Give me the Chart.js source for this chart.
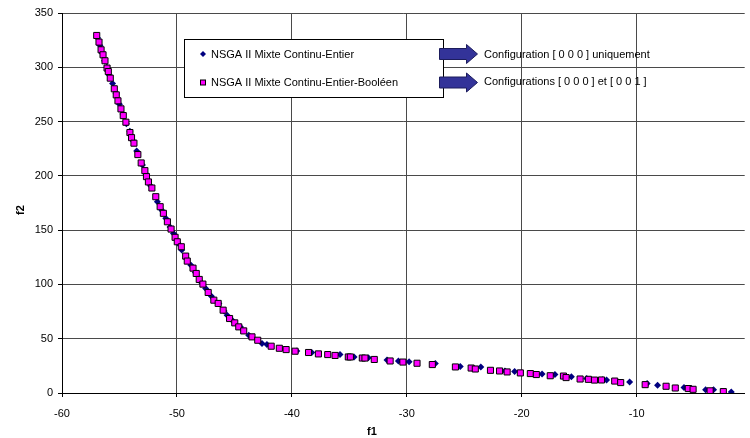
<!DOCTYPE html>
<html>
<head>
<meta charset="utf-8">
<script src="https://cdn.jsdelivr.net/npm/chart.js@4"></script>
<style>
  html, body { margin: 0; padding: 0; background: #fff; }
  #wrap { width: 750px; height: 438px; }
</style>
</head>
<body>
<div id="wrap"><canvas id="front" width="750" height="438"></canvas></div>
<script>
// NSGA II Mixte Continu-Entier (navy diamonds)
const entierF1 = [-56.9, -56.7, -56.5, -56.3, -56.1, -55.9, -55.6, -55.3, -55.0, -54.7,
  -54.4, -54.1, -53.8, -53.5, -53.0, -52.7, -52.3, -51.7, -51.3, -50.97,
  -50.6, -50.3, -49.9, -49.58, -49.2, -48.8, -48.4, -47.9, -47.5, -47.0,
  -46.35, -45.9, -45.63, -45.2, -44.47, -43.75, -42.6, -42.17, -39.57, -38.27,
  -35.81, -34.59, -33.35, -31.72, -30.73, -29.8, -27.52, -25.35, -23.56, -21.46,
  -20.62, -18.23, -17.11, -15.68, -14.35, -12.96, -12.62, -10.61, -9.09, -8.18,
  -5.88, -5.25, -4.0, -3.31, -1.77];
const entierF2 = [327, 320, 313, 306, 300, 293, 285, 276, 266, 257,
  248, 241, 232, 223, 210.1, 202, 191, 176.2, 168, 160.9,
  153, 147, 138, 131.6, 124, 118, 111, 102, 96.3, 89,
  82.5, 75.5, 71.7, 67, 60.9, 53.2, 45.6, 44.6, 38.7, 37.3,
  35.4, 33.2, 32.5, 30.4, 29.4, 28.8, 27.2, 24.4, 24.0, 20.3,
  19.7, 17.4, 17.1, 14.9, 13.3, 12.2, 12.0, 10.1, 8.7, 7.1,
  5.0, 4.1, 3.0, 3.1, 0.9];

// NSGA II Mixte Continu-Entier-Booléen (magenta squares)
const booleenF1 = [-56.98, -56.78, -56.6, -56.43, -56.26, -56.08, -55.97, -55.8, -55.45, -55.28,
  -55.13, -54.87, -54.67, -54.44, -54.09, -53.95, -53.74, -53.4, -53.11, -52.79,
  -52.65, -52.48, -52.18, -51.84, -51.46, -51.18, -50.83, -50.51, -50.16, -49.97,
  -49.62, -49.24, -49.1, -48.6, -48.32, -48.06, -47.74, -47.28, -46.79, -46.41,
  -45.98, -45.42, -44.97, -44.62, -44.19, -43.47, -42.97, -41.8, -41.09, -40.5,
  -39.72, -38.55, -37.69, -36.88, -36.24, -35.09, -34.91, -33.87, -33.64, -32.83,
  -31.45, -30.34, -29.11, -27.78, -25.77, -24.4, -24.04, -22.72, -21.93, -21.27,
  -20.12, -19.25, -18.73, -17.52, -16.37, -16.14, -14.92, -14.2, -13.67, -13.06,
  -11.91, -11.39, -9.26, -7.44, -6.64, -5.51, -5.09, -3.61, -2.46];
const booleenF2 = [329.3, 323.2, 316.1, 311.5, 306.0, 299.3, 296.1, 290.0, 280.2, 274.6,
  269.1, 261.7, 255.5, 249.4, 239.9, 235.2, 230.1, 219.6, 211.9, 204.8,
  199.3, 194.4, 188.8, 180.8, 171.6, 165.5, 157.7, 151.0, 143.4, 139.3,
  134.7, 126.1, 121.5, 115.0, 110.1, 104.6, 100.3, 92.6, 85.5, 82.5,
  76.3, 68.6, 64.6, 60.9, 57.2, 51.7, 48.6, 43.1, 41.2, 40.0,
  38.5, 37.3, 36.0, 35.4, 34.6, 33.2, 33.2, 32.2, 32.2, 30.9,
  29.5, 28.5, 27.4, 26.2, 24.0, 23.0, 22.1, 20.9, 20.3, 19.4,
  18.5, 17.9, 17.0, 15.9, 15.6, 14.2, 12.9, 12.6, 11.9, 12.0,
  11.0, 9.6, 7.7, 6.2, 4.6, 4.1, 3.4, 2.0, 1.3];

const seriesNames = ['NSGA II Mixte Continu-Entier', 'NSGA II Mixte Continu-Entier-Booléen'];
const noteTexts = ['Configuration [ 0 0 0 ] uniquement', 'Configurations [ 0 0 0 ] et [ 0 0 1 ]'];

const FONT = '"Liberation Sans", Arial, sans-serif';
const NAVY = '#000080';
const MAGENTA = '#ff00ff';

function toPoints(xs, ys) {
  return xs.map((x, i) => ({ x: x, y: ys[i] }));
}

// block arrow pointing right
function drawArrow(ctx, x0, cy) {
  ctx.beginPath();
  ctx.moveTo(x0, cy - 5.5);
  ctx.lineTo(x0 + 27, cy - 5.5);
  ctx.lineTo(x0 + 27, cy - 9.5);
  ctx.lineTo(x0 + 38, cy);
  ctx.lineTo(x0 + 27, cy + 9.5);
  ctx.lineTo(x0 + 27, cy + 5.5);
  ctx.lineTo(x0, cy + 5.5);
  ctx.closePath();
  ctx.fillStyle = '#333399';
  ctx.fill();
  ctx.strokeStyle = '#1c1c5c';
  ctx.lineWidth = 1;
  ctx.stroke();
}

// legend box, arrows, notes and axis titles
const decorations = {
  id: 'decorations',
  afterDraw(chart) {
    const ctx = chart.ctx;
    ctx.save();

    ctx.fillStyle = '#fff';
    ctx.fillRect(184.5, 39.5, 259, 58);
    ctx.strokeStyle = '#000';
    ctx.lineWidth = 1;
    ctx.strokeRect(184.5, 39.5, 259, 58);

    // diamond marker
    ctx.beginPath();
    ctx.moveTo(203, 51);
    ctx.lineTo(206, 54);
    ctx.lineTo(203, 57);
    ctx.lineTo(200, 54);
    ctx.closePath();
    ctx.fillStyle = NAVY;
    ctx.fill();

    // square marker
    ctx.fillStyle = MAGENTA;
    ctx.fillRect(200.5, 80, 5, 5);
    ctx.strokeStyle = '#000';
    ctx.strokeRect(200.5, 80, 5, 5);

    ctx.fillStyle = '#000';
    ctx.font = '11px ' + FONT;
    ctx.textBaseline = 'middle';
    ctx.textAlign = 'left';
    ctx.fillText(seriesNames[0], 211, 54.5);
    ctx.fillText(seriesNames[1], 211, 83);

    drawArrow(ctx, 439.5, 54);
    drawArrow(ctx, 439.5, 82.5);

    ctx.fillStyle = '#000';
    ctx.fillText(noteTexts[0], 484, 55);
    ctx.fillText(noteTexts[1], 484, 82);

    ctx.font = 'bold 11px ' + FONT;
    ctx.textAlign = 'center';
    ctx.fillText('f1', 372, 432);
    ctx.translate(21, 210);
    ctx.rotate(-Math.PI / 2);
    ctx.fillText('f2', 0, 0);
    ctx.restore();
  }
};

const ctx = document.getElementById('front').getContext('2d');
const frontChart = new Chart(ctx, {
  type: 'scatter',
  data: {
    datasets: [{
      label: seriesNames[0],
      data: toPoints(entierF1, entierF2),
      pointStyle: 'rectRot',
      pointRadius: 3.5,
      pointBackgroundColor: NAVY,
      pointBorderColor: NAVY,
      pointBorderWidth: 0,
      order: 2
    }, {
      label: seriesNames[1],
      data: toPoints(booleenF1, booleenF2),
      pointStyle: 'rect',
      pointRadius: 4.3,
      pointBackgroundColor: MAGENTA,
      pointBorderColor: '#000',
      pointBorderWidth: 1,
      order: 1
    }]
  },
  options: {
    responsive: false,
    animation: false,
    events: [],
    layout: { padding: { left: 0, right: 2, top: 13, bottom: 0 } },
    plugins: {
      legend: { display: false },
      tooltip: { enabled: false }
    },
    scales: {
      x: {
        type: 'linear',
        min: -60,
        max: -0.6,
        border: { color: '#000', width: 1 },
        grid: { color: '#4a4a4a', tickLength: 4, tickColor: '#000' },
        ticks: {
          stepSize: 10,
          includeBounds: false,
          color: '#000',
          font: { family: FONT, size: 11 },
          padding: 10,
          maxRotation: 0
        },
        afterFit: s => { s.height = 45; }
      },
      y: {
        min: 0,
        max: 350,
        border: { color: '#000', width: 1 },
        grid: { color: '#4a4a4a', tickLength: 4, tickColor: '#000' },
        ticks: {
          stepSize: 50,
          color: '#000',
          font: { family: FONT, size: 11 },
          padding: 5
        },
        afterFit: s => { s.width = 62; }
      }
    }
  },
  plugins: [decorations]
});
</script>
</body>
</html>
